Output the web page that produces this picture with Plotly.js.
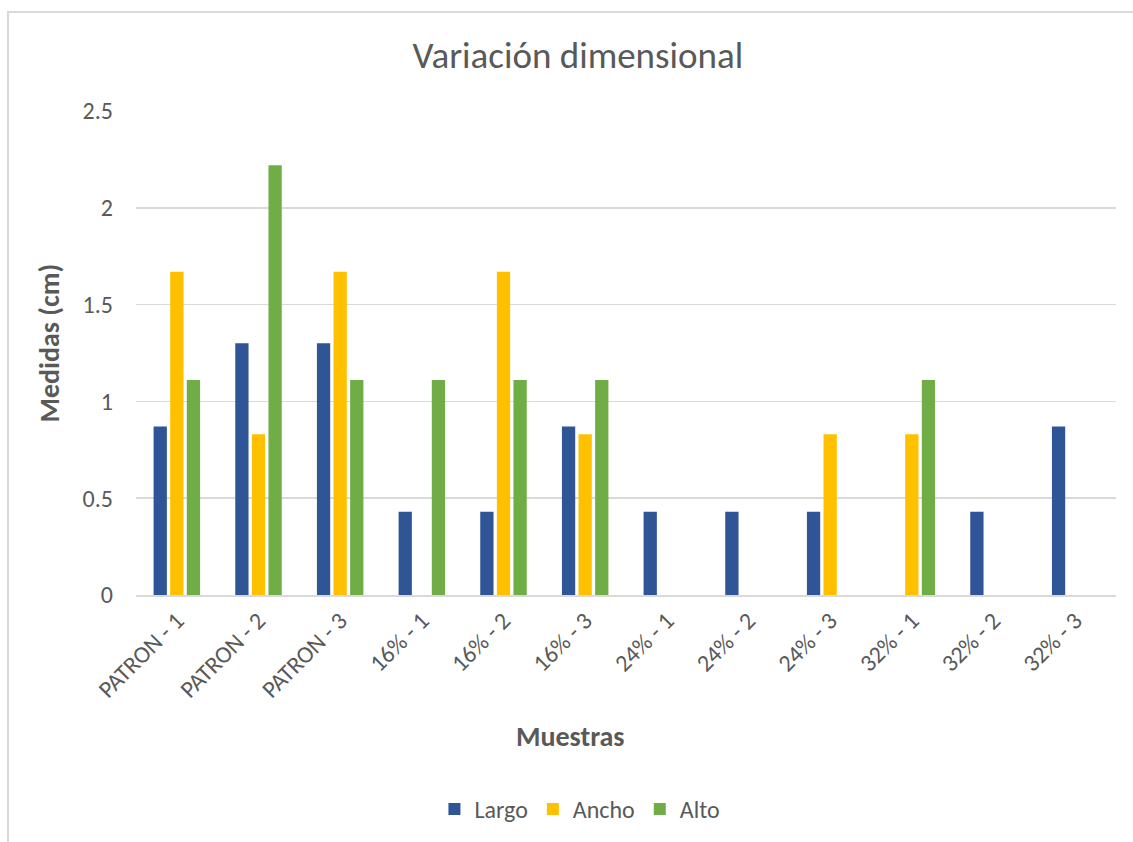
<!DOCTYPE html>
<html>
<head>
<meta charset="utf-8">
<script src="https://cdn.plot.ly/plotly-3.0.1.min.js"></script>
<style>
html,body{margin:0;padding:0;background:#fff;}
#wrap{position:relative;width:1133px;height:842px;}
#frame{position:absolute;left:7px;top:11px;width:1200px;height:900px;border-left:2px solid #d9d9d9;border-top:2px solid #d9d9d9;pointer-events:none;}
#chart{position:absolute;left:0;top:0;width:1133px;height:842px;}
</style>
</head>
<body>
<div id="wrap"><div id="chart"></div><div id="frame"></div></div>
<script>
const categories = ["PATRON - 1","PATRON - 2","PATRON - 3","16% - 1","16% - 2","16% - 3","24% - 1","24% - 2","24% - 3","32% - 1","32% - 2","32% - 3"];
const largo = [0.87,1.3,1.3,0.43,0.43,0.87,0.43,0.43,0.43,0,0.43,0.87];
const ancho = [1.67,0.83,1.67,0,1.67,0.83,0,0,0.83,0.83,0,0];
const alto  = [1.11,2.22,1.11,1.11,1.11,1.11,0,0,0,1.11,0,0];
const yTicks = [0,0.5,1,1.5,2,2.5];
const yTickText = ["0","0.5","1","1.5","2","2.5"];

const font = "Carlito, Calibri, 'Open Sans', 'Liberation Sans', sans-serif";
const mk = (name, y, color) => ({
  type:'bar', name:name, x:categories, y:y,
  marker:{color:color, line:{color:'#ffffff', width:0}}
});
const data = [
  mk('Largo', largo, '#2F5597'),
  mk('Ancho', ancho, '#FFC000'),
  mk('Alto', alto, '#70AD47')
];
const layout = {
  width:1133, height:842,
  margin:{l:136, r:17, t:111, b:246},
  paper_bgcolor:'#ffffff', plot_bgcolor:'#ffffff',
  font:{family:font, color:'#595959'},
  title:{text:'Variación dimensional', font:{size:37, color:'#595959', family:font}, x:0.51, xanchor:'center', y:0.935, yanchor:'middle'},
  barmode:'group', bargap:0.39, bargroupgap:0.2,
  xaxis:{
    tickangle:-45, tickfont:{size:24, color:'#595959'},
    showgrid:false, showline:true, linecolor:'#d9d9d9', linewidth:2,
    ticks:'', ticklen:0, automargin:false
  },
  yaxis:{
    range:[0,2.5], tickvals:yTicks, ticktext:yTickText,
    tickfont:{size:24, color:'#595959'}, automargin:false,
    showgrid:true, gridcolor:'#d9d9d9', gridwidth:1.5,
    zeroline:false, showline:false, ticks:'', ticklabelstandoff:22
  },
  annotations:[
    {text:'<b>Muestras</b>', xref:'paper', yref:'paper', x:(570-136)/980, y:-(738-596)/485, xanchor:'center', yanchor:'middle', showarrow:false, font:{size:28, color:'#595959'}},
    {text:'<b>Medidas (cm)</b>', xref:'paper', yref:'paper', x:-(136-50)/980, y:(596-344)/485, xanchor:'center', yanchor:'middle', textangle:-90, showarrow:false, font:{size:28, color:'#595959'}}
  ],
  showlegend:true,
  legend:{orientation:'h', x:0.453, xanchor:'center', y:-0.44, yanchor:'middle', font:{size:24, color:'#595959'}, traceorder:'normal', itemwidth:30}
};
Plotly.newPlot('chart', data, layout, {displayModeBar:false, staticPlot:true});
</script>
</body>
</html>
